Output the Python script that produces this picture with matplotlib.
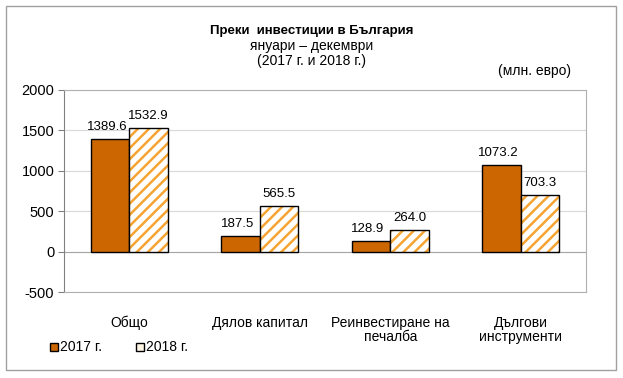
import numpy as np
import matplotlib.pyplot as plt
from matplotlib.patches import Rectangle

plt.rcParams['font.family'] = ['Liberation Sans', 'DejaVu Sans']
plt.rcParams['hatch.linewidth'] = 1.8
plt.rcParams['axes.unicode_minus'] = False

categories = ['Общо', 'Дялов капитал', 'Реинвестиране на\nпечалба', 'Дългови\nинструменти']
values_2017 = [1389.6, 187.5, 128.9, 1073.2]
values_2018 = [1532.9, 565.5, 264.0, 703.3]
yticks = [-500, 0, 500, 1000, 1500, 2000]

c2017 = '#CC6600'
c2018 = '#F5A433'

W, H = 623, 378
fig = plt.figure(figsize=(W / 100, H / 100), dpi=100)
fig.patches.append(Rectangle((6 / W, 1 - 370 / H), 610 / W, 364 / H, transform=fig.transFigure,
                             fill=False, edgecolor='#A0A0A0', lw=1))
ax = fig.add_axes([64 / W, 1 - 292 / H, 522 / W, 202 / H])

x = np.arange(len(categories))
w = 0.295
ax.bar(x - w / 2, values_2017, w, color=c2017, edgecolor='black', lw=1, zorder=3)
ax.bar(x + w / 2, values_2018, w, color='white', edgecolor=c2018, hatch='///', lw=0, zorder=3)
ax.bar(x + w / 2, values_2018, w, fill=False, edgecolor='black', lw=1, zorder=4)

for xi, v in zip(x, values_2017):
    ax.annotate(f'{v:.1f}', (xi - w / 2, v), xytext=(-3, 12), textcoords='offset pixels',
                ha='center', va='center', fontsize=9.5)
for xi, v in zip(x, values_2018):
    ax.annotate(f'{v:.1f}', (xi + w / 2, v), xytext=(0, 12), textcoords='offset pixels',
                ha='center', va='center', fontsize=9.5)

ax.set_xlim(-0.5, len(categories) - 0.5)
ax.set_ylim(-500, 2000)
ax.set_yticks(yticks)
ax.tick_params(axis='y', labelsize=10.5, length=4, color='#808080', pad=3)
ax.set_xticks(x)
ax.set_xticklabels(categories, fontsize=10, va='top', linespacing=1.0)
ax.tick_params(axis='x', length=0, pad=17)
ax.grid(axis='y', color='#D9D9D9', lw=0.8, zorder=0)
ax.axhline(0, color='#A6A6A6', lw=0.8, zorder=2)
for s in ['top', 'right', 'bottom']:
    ax.spines[s].set_color('#B0B0B0')
ax.spines['left'].set_color('#808080')

fig.text(0.5, 1 - 31 / H, 'Преки  инвестиции в България', ha='center', va='center',
         fontsize=9.5, fontweight='bold')
fig.text(0.5, 1 - 46 / H, 'януари – декември', ha='center', va='center', fontsize=10)
fig.text(0.5, 1 - 61 / H, '(2017 г. и 2018 г.)', ha='center', va='center', fontsize=10)
fig.text(535 / W, 1 - 71 / H, '(млн. евро)', ha='center', va='center', fontsize=10)

# legend
fig.patches.append(Rectangle((50 / W, 1 - 351 / H), 8 / W, 8 / H, transform=fig.transFigure,
                             facecolor=c2017, edgecolor='black', lw=1))
fig.text(60 / W, 1 - 347 / H, '2017 г.', va='center', fontsize=10)
fig.patches.append(Rectangle((136 / W, 1 - 351 / H), 8 / W, 8 / H, transform=fig.transFigure,
                             facecolor='#FFF6E6', edgecolor='black', lw=1))
fig.text(146 / W, 1 - 347 / H, '2018 г.', va='center', fontsize=10)

fig.savefig('out.png', dpi=100)
